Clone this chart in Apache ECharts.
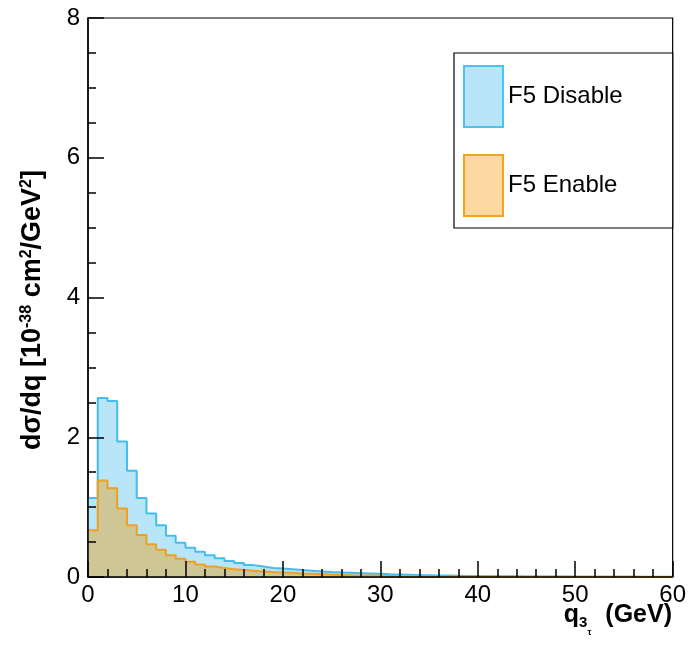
<!DOCTYPE html>
<html><head><meta charset="utf-8">
<script src="https://cdn.jsdelivr.net/npm/echarts@6/dist/echarts.min.js"></script>
<style>html,body{margin:0;padding:0;background:#fff}#c{width:689px;height:647px}</style>
</head><body><div id="c"></div>
<script>
// bin lower edges (GeV), 1 GeV bins from 0 to 60
const binEdges = [0,1,2,3,4,5,6,7,8,9,10,11,12,13,14,15,16,17,18,19,20,21,22,23,24,25,26,27,28,29,30,31,32,33,34,35,36,37,38,39,40,41,42,43,44,45,46,47,48,49,50,51,52,53,54,55,56,57,58,59,60];
const f5Disable = [1.13,2.56,2.52,1.94,1.52,1.13,0.91,0.74,0.59,0.49,
  0.42,0.36,0.31,0.27,0.23,0.20,0.17,0.15,0.13,0.12,
  0.11,0.10,0.09,0.08,0.07,0.065,0.06,0.055,0.05,0.045,
  0.04,0.036,0.032,0.028,0.025,0.022,0.02,0.018,0.016,0.014,
  0.012,0.011,0.01,0.009,0.008,0.007,0.007,0.006,0.006,0.005,
  0.005,0.004,0.004,0.004,0.003,0.003,0.003,0.003,0.002,0.002];
const f5Enable = [0.67,1.38,1.27,0.98,0.74,0.60,0.47,0.39,0.31,0.26,
  0.22,0.18,0.15,0.13,0.11,0.10,0.09,0.08,0.07,0.065,
  0.06,0.05,0.045,0.04,0.035,0.03,0.025,0.022,0.02,0.018,
  0.016,0.014,0.012,0.011,0.01,0.009,0.008,0.007,0.007,0.006,
  0.006,0.005,0.005,0.004,0.004,0.004,0.003,0.003,0.003,0.003,
  0.002,0.002,0.002,0.002,0.002,0.002,0.001,0.001,0.001,0.001];
const seriesNames = ['F5 Disable','F5 Enable'];
const xTicks = [0,10,20,30,40,50,60];
const yTicks = [0,2,4,6,8];

function hist(vals){
  const d = vals.map((v,i)=>[binEdges[i], v]);
  d.push([binEdges[vals.length], vals[vals.length-1]]);
  return d;
}
const FONT = 'Liberation Sans, Arial, Helvetica, sans-serif';
const chart = echarts.init(document.getElementById('c'), null, {renderer:'canvas'});
const axisCommon = {
  axisLine:{show:true, onZero:false, lineStyle:{color:'#000', width:1.5}},
  axisTick:{show:true, inside:true, length:16, lineStyle:{color:'#000', width:1.5}},
  minorTick:{show:true, length:8, lineStyle:{color:'#000', width:1.5}},
  splitLine:{show:false},
  axisLabel:{color:'#000', fontSize:24, fontFamily:FONT},
  z:10
};
chart.setOption({
  animation:false,
  backgroundColor:'#fff',
  grid:{left:88, right:16, top:18, bottom:70, show:true, borderColor:'#000', borderWidth:1.2, backgroundColor:'transparent'},
  xAxis:Object.assign({}, axisCommon, {
    type:'value', min:xTicks[0], max:xTicks[xTicks.length-1], interval:10,
    minorTick:Object.assign({}, axisCommon.minorTick, {splitNumber:5}),
    axisLabel:Object.assign({}, axisCommon.axisLabel, {margin:6})
  }),
  yAxis:Object.assign({}, axisCommon, {
    type:'value', min:yTicks[0], max:yTicks[yTicks.length-1], interval:2,
    minorTick:Object.assign({}, axisCommon.minorTick, {splitNumber:4}),
    axisLabel:Object.assign({}, axisCommon.axisLabel, {margin:8})
  }),
  legend:{
    orient:'vertical', left:454, top:53, padding:[12,50,11,9],
    itemWidth:39, itemHeight:61, itemGap:26, icon:'rect',
    borderColor:'#000', borderWidth:1.2, backgroundColor:'#fff',
    textStyle:{fontSize:24, color:'#000', fontFamily:FONT},
    data:[
      {name:seriesNames[0], itemStyle:{color:'#b8e6f8', borderColor:'#4cc2ee', borderWidth:2}},
      {name:seriesNames[1], itemStyle:{color:'#fdd9a2', borderColor:'#f2a41e', borderWidth:2}}
    ]
  },
  series:[
    {name:seriesNames[0], type:'line', step:'end', symbol:'none', data:hist(f5Disable),
     lineStyle:{color:'#45bdec', width:2}, itemStyle:{color:'#45bdec'},
     areaStyle:{color:'#b8e6f8', opacity:1}, z:2},
    {name:seriesNames[1], type:'line', step:'end', symbol:'none', data:hist(f5Enable),
     lineStyle:{color:'#f0a020', width:2}, itemStyle:{color:'#f0a020'},
     areaStyle:{color:'rgba(240,150,0,0.4)', opacity:1}, z:3}
  ],
  graphic:[
    {type:'text', x:33, y:310, rotation:Math.PI/2, z:20,
     style:{
       text:'{a|dσ/dq [10}{s|-38}{a| cm}{s|2}{a|/GeV}{s|2}{a|]}',
       align:'center', verticalAlign:'middle', textAlign:'center', textVerticalAlign:'middle',
       rich:{
         a:{fontSize:27, fontWeight:'bold', fontFamily:FONT, fill:'#000', lineHeight:28, verticalAlign:'top'},
         s:{fontSize:16, fontWeight:'bold', fontFamily:FONT, fill:'#000', lineHeight:16, verticalAlign:'top'}
       }
     }},
    {type:'text', x:672, y:603, z:20,
     style:{
       text:'{a|q}{s|3}{t|τ}{a|  (GeV)}',
       align:'right', verticalAlign:'top', textAlign:'right', textVerticalAlign:'top',
       rich:{
         a:{fontSize:25, fontWeight:'bold', fontFamily:FONT, fill:'#000', lineHeight:26, verticalAlign:'top'},
         s:{fontSize:15, fontWeight:'bold', fontFamily:FONT, fill:'#000', lineHeight:15, verticalAlign:'top', padding:[12,0,0,0]},
         t:{fontSize:9, fontWeight:'bold', fontFamily:FONT, fill:'#000', lineHeight:9, verticalAlign:'top', padding:[25,0,0,0]}
       }
     }}
  ]
});
</script></body></html>
